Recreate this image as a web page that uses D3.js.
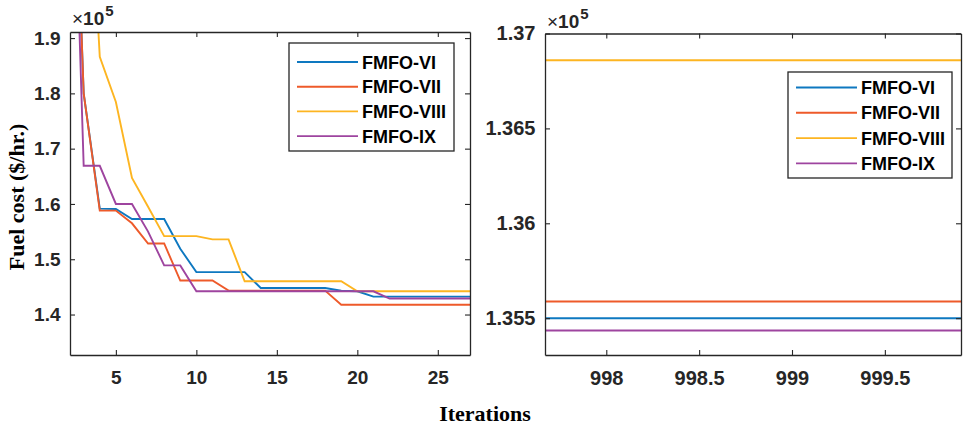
<!DOCTYPE html>
<html>
<head>
<meta charset="utf-8">
<script src="https://cdn.jsdelivr.net/npm/d3@7"></script>
<style>
  body { margin: 0; background: #fff; }
  svg { display: block; }
</style>
</head>
<body>
<div class="container"></div>
<script>
// iterations shown in the left (early) panel
const itersEarly = [1, 2, 3, 4, 5, 6, 7, 8, 9, 10, 11, 12, 13, 14, 15, 16, 17, 18, 19, 20, 21, 22, 23, 24, 25, 26, 27]
// fuel cost, x10^5 $/hr
const fmfo6Early = [2.9, 2.6, 1.80, 1.5916, 1.591, 1.5728, 1.5728, 1.5728, 1.519, 1.4767, 1.4767, 1.4767, 1.4767, 1.448, 1.448, 1.448, 1.448, 1.448, 1.443, 1.442, 1.4323, 1.4323, 1.4323, 1.4323, 1.4323, 1.4323, 1.4323]
const fmfo7Early = [2.9, 2.6, 1.80, 1.588, 1.588, 1.565, 1.5285, 1.5285, 1.4615, 1.4615, 1.4615, 1.4432, 1.4432, 1.4432, 1.4432, 1.4432, 1.4432, 1.4432, 1.4177, 1.4177, 1.4177, 1.4177, 1.4177, 1.4177, 1.4177, 1.4177, 1.4177]
const fmfo8Early = [2.9, 2.6, 2.4, 1.866, 1.7845, 1.647, 1.595, 1.5418, 1.5418, 1.5418, 1.536, 1.536, 1.4602, 1.4602, 1.4602, 1.4602, 1.4602, 1.4602, 1.4602, 1.442, 1.442, 1.442, 1.442, 1.442, 1.442, 1.442, 1.442]
const fmfo9Early = [2.9, 2.6, 1.669, 1.669, 1.6, 1.6, 1.55, 1.4889, 1.4889, 1.442, 1.442, 1.442, 1.442, 1.442, 1.442, 1.442, 1.442, 1.442, 1.442, 1.442, 1.442, 1.429, 1.429, 1.429, 1.429, 1.429, 1.429]

// last iterations (right panel)
const itersLate = [997, 998, 999, 1000]
const fmfo6Late = [1.355, 1.355, 1.355, 1.355]
const fmfo7Late = [1.35588, 1.35588, 1.35588, 1.35588]
const fmfo8Late = [1.36859, 1.36859, 1.36859, 1.36859]
const fmfo9Late = [1.35435, 1.35435, 1.35435, 1.35435]

const seriesNames = ['FMFO-VI', 'FMFO-VII', 'FMFO-VIII', 'FMFO-IX']
const seriesColors = ['#0E78C0', '#EE5A2A', '#FDB521', '#9E449F']

const leftXTicks = [5, 10, 15, 20, 25]
const leftYTicks = [1.4, 1.5, 1.6, 1.7, 1.8, 1.9]
const rightXTicks = [998, 998.5, 999, 999.5]
const rightYTicks = [1.355, 1.36, 1.365, 1.37]

const svg = d3.select('.container').append('svg')
    .attr('width', 969).attr('height', 427)

function drawPanel(opt) {
    var x = d3.scaleLinear().domain(opt.xDomain).range([opt.left, opt.right]),
        y = d3.scaleLinear().domain(opt.yDomain).range([opt.bottom, opt.top])

    svg.append('clipPath').attr('id', opt.id)
        .append('rect')
        .attr('x', opt.left).attr('y', opt.top)
        .attr('width', opt.right - opt.left).attr('height', opt.bottom - opt.top)

    var line = d3.line().x(d => x(d[0])).y(d => y(d[1]))

    var g = svg.append('g').attr('clip-path', 'url(#' + opt.id + ')')
    opt.series.forEach((vals, i) => {
        g.append('path')
            .datum(opt.iters.map((it, k) => [it, vals[k]]))
            .attr('d', line)
            .attr('fill', 'none')
            .attr('stroke', seriesColors[i])
            .attr('stroke-width', 1.9)
    })

    // box with inward ticks on all four sides
    var fmt = d => String(d)
    var axes = [
        [d3.axisBottom(x).tickValues(opt.xTicks).tickFormat(fmt), 0, opt.bottom, 16],
        [d3.axisTop(x).tickValues(opt.xTicks).tickFormat(''), 0, opt.top, 0],
        [d3.axisLeft(y).tickValues(opt.yTicks).tickFormat(fmt), opt.left, 0, 9.5],
        [d3.axisRight(y).tickValues(opt.yTicks).tickFormat(''), opt.right, 0, 0]
    ]
    axes.forEach(a => {
        var ax = svg.append('g')
            .attr('transform', 'translate(' + a[1] + ',' + a[2] + ')')
            .call(a[0].tickSizeInner(-5).tickSizeOuter(0).tickPadding(a[3]))
        ax.select('.domain').attr('stroke', '#262626').attr('stroke-width', 1.3)
        ax.selectAll('.tick line').attr('stroke', '#262626').attr('stroke-width', 1.1)
        ax.selectAll('.tick text')
            .attr('fill', '#262626')
            .style('font-family', 'Liberation Sans, Arial, sans-serif')
            .style('font-size', opt.tickFont + 'px')
            .style('font-weight', 'bold')
    })

    // exponent label
    var ex = svg.append('text')
        .attr('x', opt.left + 2).attr('y', opt.expY)
        .attr('fill', '#262626')
        .style('font-family', 'Liberation Sans, Arial, sans-serif')
        .style('font-size', '19px')
    ex.append('tspan').text('\u00d7')
    ex.append('tspan').style('font-weight', 'bold').text('10')
    ex.append('tspan').attr('dx', 1).attr('dy', -9).style('font-size', '15px').style('font-weight', 'bold').text('5')

    // legend
    var lg = opt.legend
    svg.append('rect')
        .attr('x', lg.x).attr('y', lg.y)
        .attr('width', lg.w).attr('height', lg.h)
        .attr('fill', '#fff').attr('stroke', '#262626').attr('stroke-width', 1.3)
    seriesNames.forEach((name, i) => {
        var cy = lg.y + lg.first + i * lg.step
        svg.append('line')
            .attr('x1', lg.x + 8).attr('x2', lg.x + 69)
            .attr('y1', cy).attr('y2', cy)
            .attr('stroke', seriesColors[i]).attr('stroke-width', 1.9)
        svg.append('text')
            .attr('x', lg.x + 73).attr('y', cy + 6.5)
            .attr('fill', '#000')
            .style('font-family', 'Liberation Sans, Arial, sans-serif')
            .style('font-size', '18px')
            .style('font-weight', 'bold')
            .text(name)
    })
}

drawPanel({
    id: 'clipL', left: 70, right: 470, top: 32, bottom: 355,
    xDomain: [2.15, 27.0], yDomain: [1.3268, 1.911],
    iters: itersEarly, series: [fmfo6Early, fmfo7Early, fmfo8Early, fmfo9Early],
    xTicks: leftXTicks, yTicks: leftYTicks, tickFont: 19, expY: 25,
    legend: {x: 289, y: 43, w: 165, h: 108, first: 19, step: 24.7}
})

drawPanel({
    id: 'clipR', left: 545, right: 961, top: 33.5, bottom: 355,
    xDomain: [997.67, 999.91], yDomain: [1.35306, 1.37],
    iters: itersLate, series: [fmfo6Late, fmfo7Late, fmfo8Late, fmfo9Late],
    xTicks: rightXTicks, yTicks: rightYTicks, tickFont: 20, expY: 27.5,
    legend: {x: 788, y: 72, w: 164, h: 106, first: 15.5, step: 25.3}
})

// shared axis titles
svg.append('text')
    .attr('transform', 'translate(24,197) rotate(-90)')
    .attr('text-anchor', 'middle')
    .style('font-family', 'Liberation Serif, Times New Roman, serif')
    .style('font-size', '22px')
    .style('font-weight', 'bold')
    .text('Fuel cost ($/hr.)')

svg.append('text')
    .attr('x', 485).attr('y', 421)
    .attr('text-anchor', 'middle')
    .style('font-family', 'Liberation Serif, Times New Roman, serif')
    .style('font-size', '22px')
    .style('font-weight', 'bold')
    .text('Iterations')
</script>
</body>
</html>
